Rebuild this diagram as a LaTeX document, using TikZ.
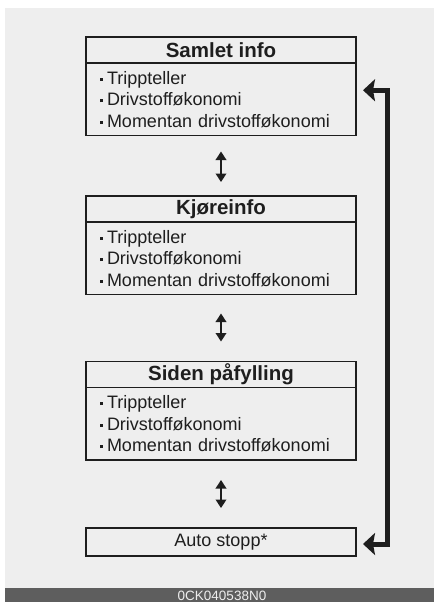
\documentclass[tikz,border=0pt]{standalone}
\usepackage{fontspec}
\setmainfont{Liberation Sans}
\usetikzlibrary{arrows.meta}
\definecolor{bg}{HTML}{EEEEEE}
\definecolor{ink}{HTML}{1E1E1E}
\definecolor{barc}{HTML}{5E5E5E}
\begin{document}
\begin{tikzpicture}[x=1pt,y=-1pt,
  titlebox/.style={draw=ink, line width=1.8pt, fill=bg, minimum width=270pt, minimum height=26pt,
    inner sep=0pt, outer sep=0pt, font=\fontsize{20.5}{24}\selectfont\bfseries, text=ink},
  bodybox/.style={draw=ink, line width=1.8pt, fill=bg, minimum width=270pt, minimum height=72.5pt,
    text width=242pt, inner xsep=14pt, inner ysep=0pt, outer sep=0pt, align=left,
    font=\fontsize{18}{21.5}\selectfont, text=ink},
  autobox/.style={draw=ink, line width=1.8pt, fill=bg, minimum width=270pt, minimum height=28pt,
    inner sep=0pt, outer sep=0pt, font=\fontsize{18}{21.5}\selectfont, text=ink},
  dbl/.style={draw=ink, line width=2.2pt, {Triangle[width=10.5pt,length=8.5pt]}-{Triangle[width=10.5pt,length=8.5pt]}},
  ret/.style={draw=ink, line width=5pt, {Stealth[width=22pt,length=12pt,inset=2pt]}-{Stealth[width=22pt,length=12pt,inset=2pt]}}
]
\useasboundingbox (0,0) rectangle (434,602);
\fill[white] (0,0) rectangle (434,602);
\fill[bg] (5,8) rectangle (434,588);
\fill[barc] (5,588) rectangle (434,602);
\node[text=bg, font=\fontsize{13.5}{15}\selectfont] (code) at (222,595.5) {0CK040538N0};

\newcommand{\blt}{\makebox[7pt][l]{\raisebox{3.6pt}{\rule{2.8pt}{2.8pt}}}}
\newcommand{\bodytext}{\blt Trippteller\\ \blt Drivstofføkonomi\\ \blt Momentan drivstofføkonomi}

\node[titlebox] (t1) at (221,50) {Samlet info};
\node[bodybox, anchor=north] (b1) at (t1.south) {\bodytext};

\node[titlebox] (t2) at (221,209) {Kjøreinfo};
\node[bodybox, anchor=north] (b2) at (t2.south) {\bodytext};

\node[titlebox] (t3) at (221,374.5) {Siden påfylling};
\node[bodybox, anchor=north] (b3) at (t3.south) {\bodytext};

\node[autobox] (auto) at (221,542) {Auto stopp*};

\draw[dbl, shorten <=16pt, shorten >=14pt] (b1.south) -- (t2.north);
\draw[dbl, shorten <=19pt, shorten >=20pt] (b2.south) -- (t3.north);
\draw[dbl, shorten <=20pt, shorten >=20pt] (b3.south) -- (auto.north);

\coordinate (r1) at ([xshift=7pt,yshift=9pt]b1.east);
\coordinate (r2) at ([xshift=7pt,yshift=-2pt]auto.east);
\draw[ret] (r1) -- ++(24,0) |- (r2);
\end{tikzpicture}
\end{document}
